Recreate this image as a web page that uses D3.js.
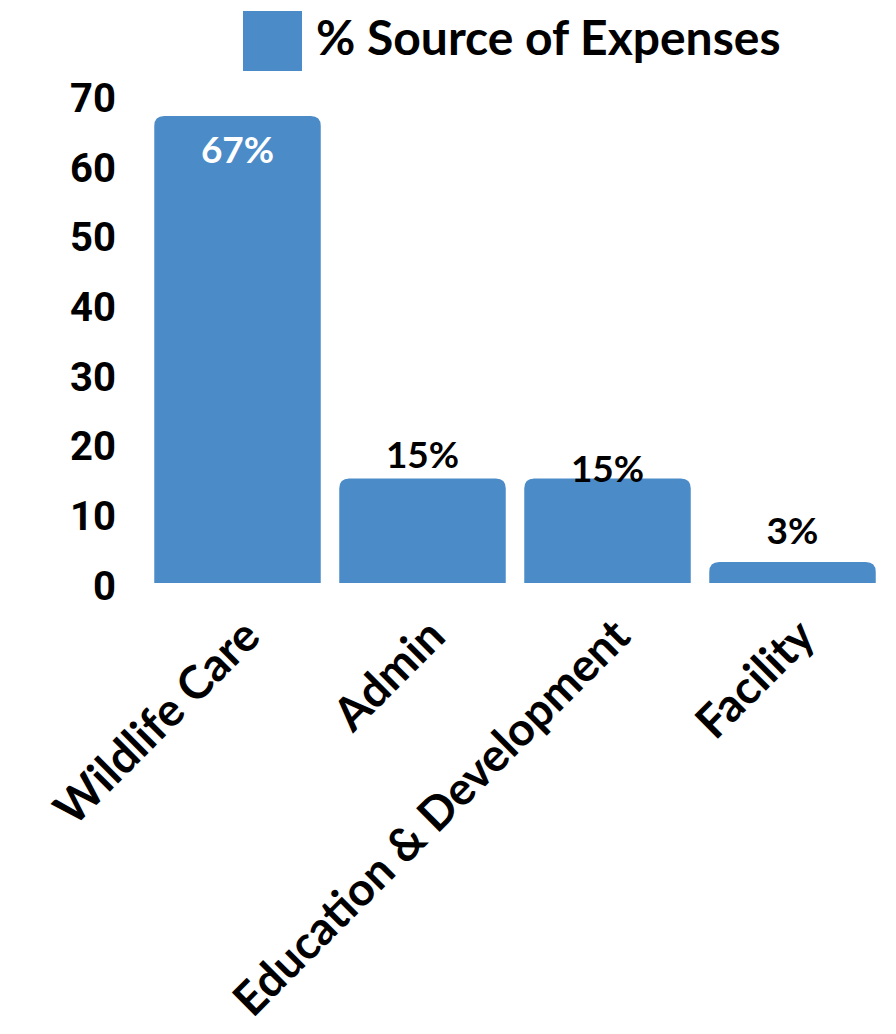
<!DOCTYPE html>
<html>
<head>
<meta charset="utf-8">
<script src="https://cdn.jsdelivr.net/npm/d3@7"></script>
<style>
  html, body { margin: 0; padding: 0; background: #fff; }
  svg { display: block; }
</style>
</head>
<body>
<div id="chart"></div>
<script>
const categories = ["Wildlife Care", "Admin", "Education & Development", "Facility"];
const values = [67, 15, 15, 3];
const valueLabels = ["67%", "15%", "15%", "3%"];
const yTicks = [0, 10, 20, 30, 40, 50, 60, 70];
const seriesName = "% Source of Expenses";

const W = 896, H = 1034;
const color = "#4A8BC8";
const font = "Lato, 'Open Sans', sans-serif";

const svg = d3.select("#chart").append("svg").attr("width", W).attr("height", H);

const x = d3.scaleBand().domain(categories).range([145, 885]).paddingInner(0.1).paddingOuter(0.05);
const y = d3.scaleLinear().domain([0, 70]).range([583, 95]);

// Bars with rounded top corners
const r = 10;
function barPath(d, i) {
  const x0 = x(categories[i]), w = x.bandwidth();
  const y0 = y(d), yb = y(0);
  return `M${x0},${yb} L${x0},${y0 + r} Q${x0},${y0} ${x0 + r},${y0} L${x0 + w - r},${y0} Q${x0 + w},${y0} ${x0 + w},${y0 + r} L${x0 + w},${yb} Z`;
}
svg.append("g").selectAll("path").data(values).join("path")
  .attr("d", barPath).attr("fill", color);

// Y axis
const yAxis = d3.axisLeft(y).tickValues(yTicks).tickSize(0).tickPadding(0);
const yg = svg.append("g").attr("transform", "translate(116,2)").call(yAxis);
yg.select(".domain").remove();
yg.selectAll("text").attr("font-family", "Roboto, sans-serif").attr("font-weight", 700)
  .attr("font-size", 40).attr("fill", "#000").attr("dy", "0.36em");

// X axis labels (rotated)
const xAxis = d3.axisBottom(x).tickSize(0).tickPadding(0);
const xg = svg.append("g").attr("transform", `translate(0,${y(0)})`).call(xAxis);
xg.select(".domain").remove();
xg.selectAll("text")
  .attr("font-family", font).attr("font-weight", 700).attr("font-size", 46).attr("fill", "#000")
  .attr("text-anchor", "end")
  .attr("dy", null).attr("y", null)
  .attr("transform", "translate(25,56) rotate(-45)");

// Value labels
const labelDy = [0, -10, 4, -18];
svg.append("g").selectAll("text").data(values).join("text")
  .attr("x", (d, i) => x(categories[i]) + x.bandwidth() / 2)
  .attr("y", (d, i) => i === 0 ? y(d) + 47 : y(d) + labelDy[i])
  .attr("text-anchor", "middle")
  .attr("font-family", font).attr("font-weight", 700).attr("font-size", 37)
  .attr("fill", (d, i) => i === 0 ? "#fff" : "#000")
  .text((d, i) => valueLabels[i]);

// Legend
const lg = svg.append("g");
lg.append("rect").attr("x", 243).attr("y", 11).attr("width", 59).attr("height", 60).attr("fill", color);
lg.append("text").attr("x", 316).attr("y", 55)
  .attr("font-family", font).attr("font-weight", 700).attr("font-size", 48).attr("fill", "#000")
  .text(seriesName);
</script>
</body>
</html>
